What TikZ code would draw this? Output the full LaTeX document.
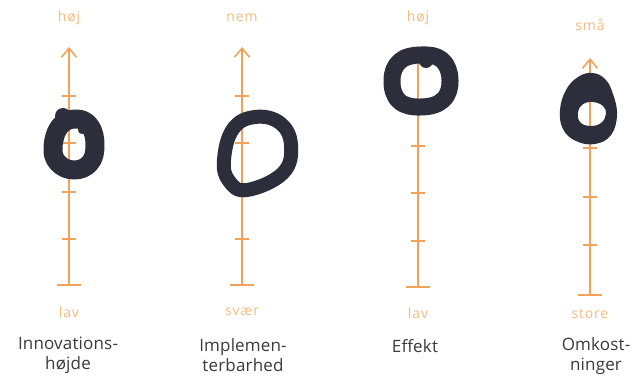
\documentclass[tikz,border=0pt]{standalone}
\usepackage{fontspec}
\setmainfont{Open Sans}
\usetikzlibrary{arrows.meta}
\definecolor{axisor}{HTML}{F2A35A}
\definecolor{labor}{HTML}{F2BC82}
\definecolor{ink}{HTML}{2C2F3B}
\definecolor{txt}{HTML}{3A3A3A}
\begin{document}
\begin{tikzpicture}[x=1pt,y=-1pt,
  axis/.style={draw=axisor,line width=1.6pt,-{Straight Barb[length=9pt,width=15pt,line width=1.6pt]}},
  tickmark/.style={draw=axisor,line width=1.2pt},
  scalelab/.style={text=labor,font=\fontsize{14}{14}\selectfont\addfontfeatures{LetterSpace=6},inner sep=0pt},
  namelab/.style={text=txt,font=\fontsize{17}{20}\selectfont\addfontfeatures{LetterSpace=1},align=center,inner sep=0pt},
  blob/.style={draw=ink,line join=round},
  blobfill/.style={fill=ink}]
\useasboundingbox[fill=white] (0,0) rectangle (637,379);

% ---------- axis 1 ----------
\coordinate (a1b) at (69,285);
\coordinate (a1t) at (69,47);
\draw[axis] (a1b) -- (a1t);
\foreach \y in {96,143,192,239} \draw[tickmark] (62,\y) -- (76,\y);
\draw[tickmark] (57,285) -- (81,285);
\node[scalelab] (t1) at (69,18) {høj};
\node[scalelab] (b1) at (69,312) {lav};
\node[namelab] (n1) at (68,355) {Innovations-\\højde};
\draw[blob,line width=19pt] plot[smooth cycle,tension=0.7] coordinates
  {(76,119) (90,126) (95,145) (90,163) (74,170) (58,163) (53,147) (60,126)};
\fill[blobfill] (63,116) circle [radius=8];
\fill[blobfill] (82,130) circle [radius=4];

% ---------- axis 2 ----------
\coordinate (a2b) at (242,285);
\coordinate (a2t) at (242,47);
\draw[axis] (a2b) -- (a2t);
\foreach \y in {96,143,192,239} \draw[tickmark] (235,\y) -- (249,\y);
\draw[tickmark] (230,285) -- (254,285);
\node[scalelab] (t2) at (242,18) {nem};
\node[scalelab] (b2) at (242,312) {svær};
\node[namelab] (n2) at (243,355) {Implemen-\\terbarhed};
\draw[blob,line width=14pt] plot[smooth cycle,tension=0.7] coordinates
  {(255,117) (280,123) (291,145) (283,173) (247,190) (229,181) (224,160) (233,129)};

% ---------- axis 3 ----------
\coordinate (a3b) at (418,287);
\coordinate (a3t) at (418,46);
\draw[axis] (a3b) -- (a3t);
\foreach \y in {146,193,241} \draw[tickmark] (411,\y) -- (425,\y);
\draw[tickmark] (406,287) -- (430,287);
\node[scalelab] (t3) at (418,18) {høj};
\node[scalelab] (b3) at (418,313) {lav};
\node[namelab] (n3) at (415,346) {Effekt};
\draw[blob,line width=17pt] plot[smooth cycle,tension=0.7] coordinates
  {(421,55) (442,60) (450,80) (443,100) (421,107) (399,101) (392,80) (400,61)};
\fill[blobfill] (426,61) circle [radius=7];

% ---------- axis 4 ----------
\coordinate (a4b) at (590,295);
\coordinate (a4t) at (590,58);
\draw[axis] (a4b) -- (a4t);
\foreach \y in {99,148,197,245} \draw[tickmark] (583,\y) -- (597,\y);
\draw[tickmark] (578,295) -- (602,295);
\node[scalelab] (t4) at (590,25) {små};
\node[scalelab] (b4) at (590,314) {store};
\node[namelab] (n4) at (596,356) {Omkost-\\ninger};
\fill[ink,even odd rule]
  plot[smooth cycle,tension=0.7] coordinates
  {(592,73) (605,79) (613,94) (617,115) (611,135) (595,144) (576,141) (563,129) (560,110) (566,90) (578,77)}
  plot[smooth cycle,tension=0.7] coordinates
  {(593,102) (603,106) (606,114) (601,123) (590,126) (580,122) (578,112) (583,104)};
\end{tikzpicture}
\end{document}
